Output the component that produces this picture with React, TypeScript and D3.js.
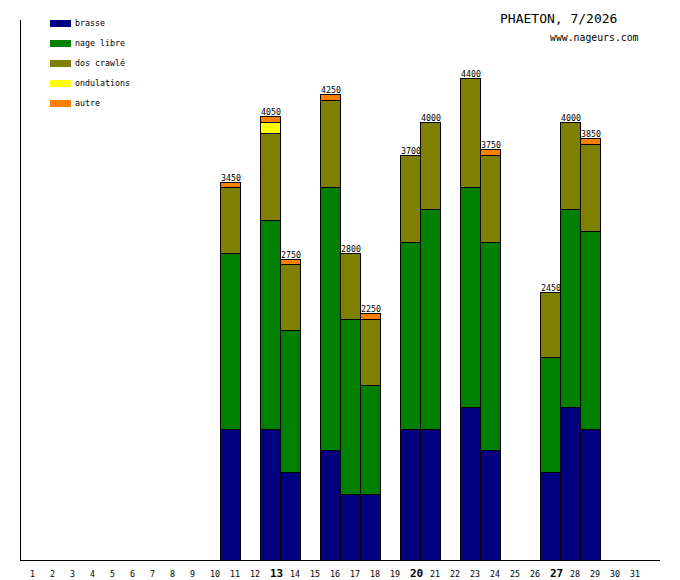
import { useEffect, useRef } from "react";
import * as d3 from "d3";

const width = 680;
const height = 580;
const margin = { top: 20, right: 40, bottom: 20, left: 20 };
const font = "'DejaVu Sans Mono', monospace";

const title = "PHAETON, 7/2026";
const site = "www.nageurs.com";

const allDays = d3.range(1, 32);
const boldDays = [13, 20, 27];

const days = [11, 13, 14, 16, 17, 18, 20, 21, 23, 24, 27, 28, 29];
const brasse = [1200, 1200, 800, 1000, 600, 600, 1200, 1200, 1400, 1000, 800, 1400, 1200];
const nageLibre = [1600, 1900, 1300, 2400, 1600, 1000, 1700, 2000, 2000, 1900, 1050, 1800, 1800];
const dosCrawle = [600, 800, 600, 800, 600, 600, 800, 800, 1000, 800, 600, 800, 800];
const ondulations = [0, 100, 0, 0, 0, 0, 0, 0, 0, 0, 0, 0, 0];
const autre = [50, 50, 50, 50, 0, 50, 0, 0, 0, 50, 0, 0, 50];

const seriesNames = ["brasse", "nage libre", "dos crawlé", "ondulations", "autre"];
const seriesColors = ["#000080", "#008000", "#808000", "#ffff00", "#ff8000"];

type Row = { day: number; [key: string]: number };

const App = () => {
  const svgRef = useRef<SVGSVGElement>(null);

  useEffect(() => {
    const values = [brasse, nageLibre, dosCrawle, ondulations, autre];
    const rows: Row[] = days.map((day, i) => {
      const r: Row = { day };
      seriesNames.forEach((name, s) => {
        r[name] = values[s][i];
      });
      return r;
    });
    const totals = rows.map((r) => d3.sum(seriesNames, (n) => r[n]));

    const xScale = d3
      .scaleBand<number>()
      .domain(allDays)
      .range([margin.left, margin.left + allDays.length * 20]);
    const yScale = d3
      .scaleLinear()
      .domain([0, (d3.max(totals) || 4400) * 1.12])
      .range([height - margin.bottom, margin.top]);

    const stack = d3.stack<Row>().keys(seriesNames);
    const stacked = stack(rows);

    const svg = d3.select(svgRef.current);
    svg.selectAll("*").remove();

    // bars
    stacked.forEach((layer, s) => {
      svg
        .append("g")
        .selectAll("rect")
        .data(layer.filter((d) => d[1] - d[0] > 0))
        .join("rect")
        .attr("x", (d) => (xScale(d.data.day) || 0) + 0.5)
        .attr("y", (d) => Math.round(yScale(d[1])) + 0.5)
        .attr("width", xScale.bandwidth())
        .attr("height", (d) => Math.round(yScale(d[0])) - Math.round(yScale(d[1])))
        .attr("fill", seriesColors[s])
        .attr("stroke", "#000")
        .attr("stroke-width", 1)
        .attr("shape-rendering", "crispEdges");
    });

    // totals
    svg
      .append("g")
      .selectAll("text")
      .data(rows)
      .join("text")
      .attr("x", (d) => (xScale(d.day) || 0) + 1)
      .attr("y", (_, i) => Math.round(yScale(totals[i])) - 1)
      .attr("font-family", font)
      .attr("font-size", 8.3)
      .text((_, i) => totals[i]);

    // axes
    svg
      .append("line")
      .attr("x1", margin.left + 0.5)
      .attr("x2", margin.left + 0.5)
      .attr("y1", margin.top)
      .attr("y2", height - margin.bottom)
      .attr("stroke", "#000");
    svg
      .append("line")
      .attr("x1", margin.left)
      .attr("x2", width - 20)
      .attr("y1", height - margin.bottom + 0.5)
      .attr("y2", height - margin.bottom + 0.5)
      .attr("stroke", "#000");

    svg
      .append("g")
      .selectAll("text")
      .data(allDays)
      .join("text")
      .attr("x", (d) => (xScale(d) || 0) + xScale.bandwidth() / 2)
      .attr("y", height - 3)
      .attr("font-family", font)
      .attr("font-size", (d) => (boldDays.includes(d) ? 11 : 8.3))
      .attr("font-weight", (d) => (boldDays.includes(d) ? "bold" : "normal"))
      .text((d) => d);

    // legend
    const legend = svg
      .append("g")
      .selectAll("g")
      .data(seriesNames)
      .join("g")
      .attr("transform", (_, i) => `translate(50,${20 + i * 20})`);
    legend
      .append("rect")
      .attr("width", 21)
      .attr("height", 7)
      .attr("fill", (_, i) => seriesColors[i]);
    legend
      .append("text")
      .attr("x", 25)
      .attr("y", 6)
      .attr("font-family", font)
      .attr("font-size", 8.3)
      .text((d) => d);

    // titles
    svg
      .append("text")
      .attr("x", 500)
      .attr("y", 23)
      .attr("font-family", font)
      .attr("font-size", 13)
      .text(title);
    svg
      .append("text")
      .attr("x", 550)
      .attr("y", 41)
      .attr("font-family", font)
      .attr("font-size", 9.8)
      .text(site);
  }, []);

  return (
    <svg
      ref={svgRef}
      width={width}
      height={height}
      viewBox={`0 0 ${width} ${height}`}
      style={{ position: "absolute", left: 0, top: 0, background: "#fff" }}
    ></svg>
  );
};

export default App;
